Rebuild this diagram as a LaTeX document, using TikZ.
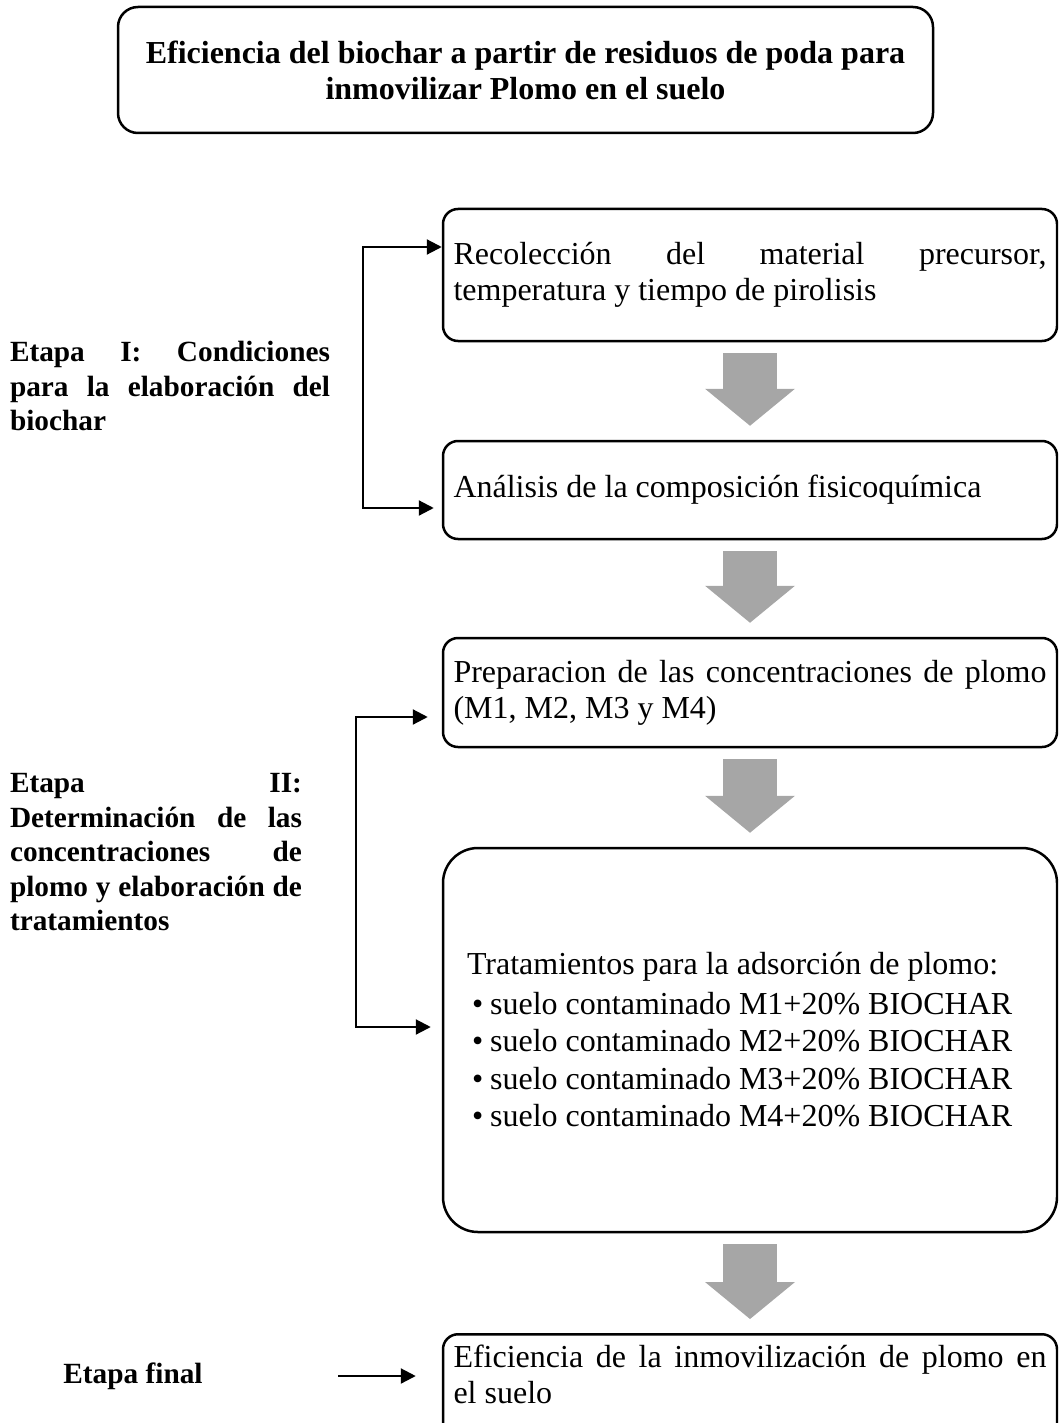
\documentclass[tikz,border=0pt]{standalone}
\usepackage{fontspec}
\setmainfont{Liberation Serif}
\usetikzlibrary{arrows.meta}
\definecolor{flowgray}{HTML}{A6A6A6}
\tolerance=10000
\hbadness=10000

\begin{document}
\begin{tikzpicture}[x=1pt,y=-1pt,
    body/.style={font=\fontsize{32}{36}\selectfont},
    box/.style={body,draw,line width=2.5pt,rounded corners=15pt,minimum width=614pt,
      text width=593pt,inner xsep=10.5pt,align=justify},
    stage/.style={font=\fontsize{29.3}{34.5}\selectfont\bfseries,inner sep=0pt},
    flow/.style={flowgray,line width=54pt,shorten <=11pt,shorten >=14pt,
      -{Triangle[length=37pt,width=90pt,line width=0pt]}},
    link/.style={line width=2.2pt},
    >={Triangle[length=15pt,width=15pt]}]
  \useasboundingbox (0,0) rectangle (1058,1423);
  \clip (0,0) rectangle (1058,1423);

  % titulo
  \node[font=\fontsize{32}{36}\selectfont\bfseries,draw,line width=2.5pt,rounded corners=20pt,
    minimum width=815pt,minimum height=126pt,align=center] (title) at (525.5,70)
    {Eficiencia del biochar a partir de residuos de poda para\\inmovilizar Plomo en el suelo};

  % cajas
  \node[box,minimum height=132pt] (boxA) at (750,275)
    {Recolección del material precursor,\linebreak temperatura y tiempo de pirolisis};
  \node[box,minimum height=98pt] (boxB) at (750,490)
    {Análisis de la composición fisicoquímica};
  \node[box,minimum height=109pt] (boxC) at (750,692.5)
    {Preparacion de las concentraciones de plomo\linebreak (M1, M2, M3 y M4)};
  \node[box,font=\fontsize{32}{37.5}\selectfont,rounded corners=35pt,align=flush left,minimum height=384pt] (boxD) at (750,1040)
    {\hspace*{13.5pt}Tratamientos para la adsorción de plomo:\\[2pt]
     \hspace*{18.5pt}•\hspace{7pt}suelo contaminado M1+20\% BIOCHAR\\
     \hspace*{18.5pt}•\hspace{7pt}suelo contaminado M2+20\% BIOCHAR\\
     \hspace*{18.5pt}•\hspace{7pt}suelo contaminado M3+20\% BIOCHAR\\
     \hspace*{18.5pt}•\hspace{7pt}suelo contaminado M4+20\% BIOCHAR};
  \node[box,anchor=north,inner ysep=0pt,text height=33pt,text depth=74pt] (boxE) at (750,1333)
    {Eficiencia de la inmovilización de plomo en\linebreak el suelo};

  % etapas
  \node[stage,text width=320pt,align=justify] (stageI) at (170,386)
    {Etapa I: Condiciones\linebreak para la elaboración del\linebreak biochar};
  \node[stage,text width=292pt,align=justify] (stageII) at (156,852.5)
    {Etapa II:\linebreak Determinación de las\linebreak concentraciones de\linebreak plomo y elaboración de\linebreak tratamientos};
  \node[stage] (stageF) at (133,1376) {Etapa final};

  % flechas grises
  \foreach \a/\b in {boxA/boxB,boxB/boxC,boxC/boxD,boxD/boxE}
    \draw[flow] (\a) -- (\b);

  % llaves
  \draw[link,<->] ([yshift=28pt]boxA.west) -- ++(-79,0) |- ([xshift=-8pt,yshift=-18pt]boxB.west);
  \draw[link,<->] ([xshift=-14pt,yshift=-24.5pt]boxC.west) -- ++(-72,0) |- ([xshift=-11pt,yshift=13pt]boxD.west);
  \coordinate (finStart) at (338,1376);
  \draw[link,->,shorten >=26pt] (finStart) -- (finStart -| boxE.west);
\end{tikzpicture}
\end{document}
